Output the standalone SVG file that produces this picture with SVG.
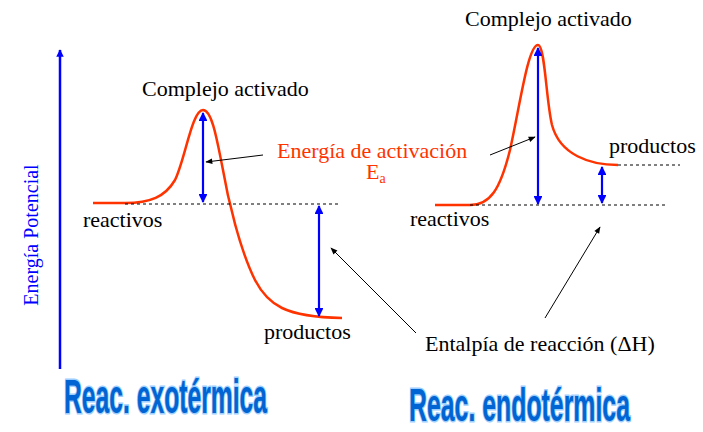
<svg xmlns="http://www.w3.org/2000/svg" width="703" height="432" viewBox="0 0 703 432">
<style>
.t{font-family:"Liberation Serif","Times New Roman",serif;font-size:22px;fill:#000}
.red{fill:#ff3300}
.curve{fill:none;stroke:#ff3300;stroke-width:2.5}
.dash{fill:none;stroke:#000;stroke-width:1;stroke-dasharray:3,3}
.blue{fill:none;stroke:#0000ff;stroke-width:2.2;marker-start:url(#ba);marker-end:url(#ba)}
.ptr{fill:none;stroke:#000;stroke-width:1;marker-end:url(#ka)}
.title{font-family:"Liberation Sans",Arial,sans-serif;font-weight:bold;fill:#0064d2;stroke:#9ccfff;stroke-width:3;paint-order:stroke}
</style>
<defs>
<marker id="ba" viewBox="0 0 10 10" refX="9" refY="5" markerWidth="4" markerHeight="4" orient="auto-start-reverse" markerUnits="strokeWidth">
<path d="M0,0 L10,5 L0,10 z" fill="#0000ff"/>
</marker>
<marker id="ka" viewBox="0 0 10 10" refX="9" refY="5" markerWidth="8" markerHeight="7" orient="auto" markerUnits="strokeWidth">
<path d="M0,1 L10,5 L0,9 z" fill="#000"/>
</marker>
<marker id="axa" viewBox="0 0 10 10" refX="9" refY="5" markerWidth="3.5" markerHeight="3" orient="auto" markerUnits="strokeWidth">
<path d="M0,0 L10,5 L0,10 z" fill="#0000ff"/>
</marker>
</defs>

<g id="axis">
<line x1="60" y1="369" x2="60" y2="50" stroke="#0000ff" stroke-width="2.5" marker-end="url(#axa)"/>
<text class="t" style="fill:#0000ff;font-size:20px" text-anchor="middle" transform="translate(38,235) rotate(-90)">Energía Potencial</text>
</g>

<g id="exo">
<path class="curve" d="M93,203 L125,203 C150,203 165,197 175,180 C185,160 192,110 203,110 C212,110 217,140 222,165 C228,200 240,250 255,280 C268,305 285,317 342,318"/>
<line class="dash" x1="125" y1="204" x2="340" y2="204"/>
<text class="t" x="142" y="96">Complejo activado</text>
<text class="t" x="83" y="227">reactivos</text>
<text class="t" x="264" y="339">productos</text>
<text class="title" x="64" y="413" font-size="49" textLength="203" lengthAdjust="spacingAndGlyphs">Reac. exotérmica</text>
</g>

<g id="endo">
<path class="curve" d="M435,205 L470,205 C490,205 500,190 510,150 C520,105 528,45 538,45 C545,45 546,100 552,125 C560,155 590,165 618,165"/>
<line class="dash" x1="470" y1="205" x2="667" y2="205"/>
<line class="dash" x1="618" y1="165" x2="680" y2="165" stroke="#666"/>
<text class="t" x="465" y="26">Complejo activado</text>
<text class="t" x="410" y="226">reactivos</text>
<text class="t" x="609" y="153">productos</text>
<text class="title" x="409" y="421" font-size="47" textLength="221" lengthAdjust="spacingAndGlyphs">Reac. endotérmica</text>
</g>

<g id="ea-label">
<text class="t red" x="277" y="158">Energía de activación</text>
<text class="t red" x="366" y="179">E<tspan font-size="14" dy="4">a</tspan></text>
</g>

<g id="dh-label">
<text class="t" x="425" y="351">Entalpía de reacción (ΔH)</text>
</g>

<g id="connectors">
<line class="blue" x1="203" y1="113" x2="203" y2="202"/>
<line class="blue" x1="319" y1="206" x2="319" y2="316"/>
<line class="blue" x1="538" y1="48" x2="538" y2="204"/>
<line class="blue" x1="602" y1="167" x2="602" y2="203"/>
<line class="ptr" x1="263" y1="155" x2="206" y2="162"/>
<line class="ptr" x1="490" y1="155" x2="535" y2="137"/>
<line class="ptr" x1="416" y1="333" x2="331" y2="248"/>
<line class="ptr" x1="545" y1="318" x2="600" y2="227"/>
</g>
</svg>
